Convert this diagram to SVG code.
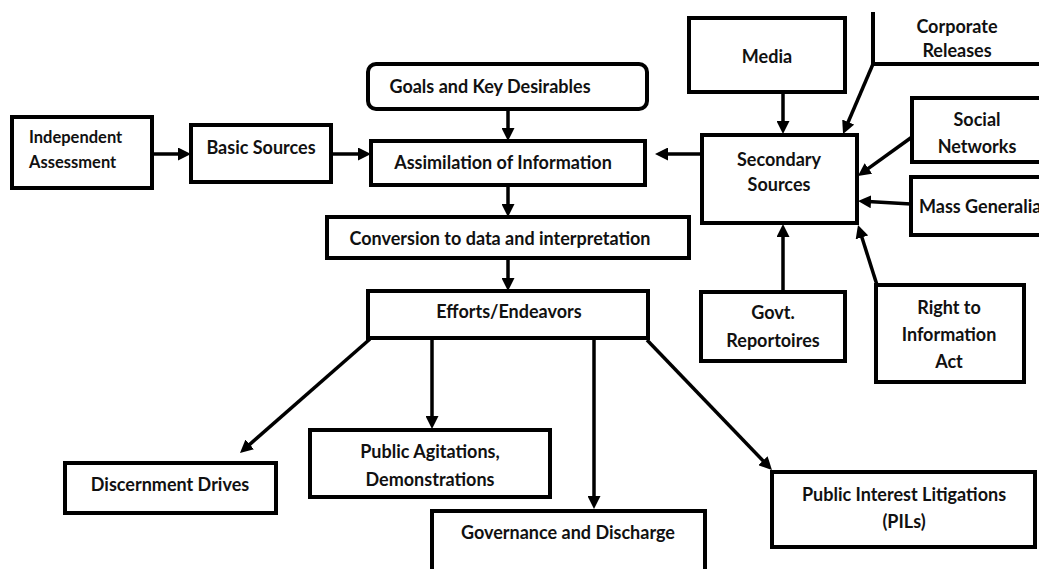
<svg xmlns="http://www.w3.org/2000/svg" width="1039" height="569" viewBox="0 0 1039 569">
<style>
.b{fill:#fff;stroke:#000;stroke-width:4}
.t{font-family:Lato,"Open Sans","Liberation Sans",sans-serif;font-weight:700;font-size:18px;fill:#111;text-anchor:middle}
.c line{stroke:#000;stroke-width:3.5;marker-end:url(#ah)}
</style>
<defs>
<marker id="ah" viewBox="0 0 13 13" refX="3" refY="6.5" markerWidth="13" markerHeight="13" markerUnits="userSpaceOnUse" orient="auto">
<path d="M0,0 L13,6.5 L0,13 z" fill="#000"/>
</marker>
</defs>
<rect width="1039" height="569" fill="#fff"/>
<g id="connectors" class="c">
<line x1="152" y1="154" x2="181" y2="154"/>
<line x1="331" y1="154" x2="361" y2="154"/>
<line x1="508" y1="109" x2="508" y2="131"/>
<line x1="508" y1="185" x2="508" y2="207"/>
<line x1="508" y1="258" x2="508" y2="281"/>
<line x1="702" y1="154" x2="665" y2="154"/>
<line x1="783" y1="92" x2="783" y2="124"/>
<line x1="873" y1="64" x2="847" y2="124.8"/>
<line x1="912" y1="137" x2="866" y2="170.2"/>
<line x1="911" y1="204" x2="868" y2="201.6"/>
<line x1="783" y1="292" x2="783" y2="234"/>
<line x1="877" y1="285" x2="861" y2="234.5"/>
<line x1="370" y1="339" x2="247.5" y2="446.4"/>
<line x1="432" y1="340" x2="432" y2="419"/>
<line x1="594" y1="340" x2="594" y2="499"/>
<line x1="647" y1="340" x2="765" y2="462.8"/>
</g>
<g id="independent-assessment">
<rect class="b" x="12" y="117" width="140" height="71"/>
<text class="t" x="29" y="143" style="text-anchor:start;font-size:16.5px">Independent</text>
<text class="t" x="29" y="168" style="text-anchor:start;font-size:16.5px">Assessment</text>
</g>
<g id="basic-sources">
<rect class="b" x="191" y="125" width="140" height="57"/>
<text class="t" x="261" y="154">Basic Sources</text>
</g>
<g id="goals">
<rect class="b" x="368" y="64" width="279" height="45" rx="8"/>
<text class="t" x="490" y="93">Goals and Key Desirables</text>
</g>
<g id="assimilation">
<rect class="b" x="371" y="141" width="274" height="44"/>
<text class="t" x="503" y="169">Assimilation of Information</text>
</g>
<g id="conversion">
<rect class="b" x="327" y="217" width="362" height="41"/>
<text class="t" x="500" y="245">Conversion to data and interpretation</text>
</g>
<g id="efforts">
<rect class="b" x="368" y="291" width="280" height="47"/>
<text class="t" x="509" y="318">Efforts/Endeavors</text>
</g>
<g id="secondary-sources">
<rect class="b" x="702" y="135" width="155" height="88"/>
<text class="t" x="779" y="166">Secondary</text>
<text class="t" x="779" y="191">Sources</text>
</g>
<g id="media">
<rect class="b" x="689" y="18" width="156" height="74"/>
<text class="t" x="767" y="63">Media</text>
</g>
<g id="corporate-releases">
<path d="M873,12 V64 H1045" fill="none" stroke="#000" stroke-width="4"/>
<text class="t" x="957" y="33">Corporate</text>
<text class="t" x="957" y="57">Releases</text>
</g>
<g id="social-networks">
<rect class="b" x="912" y="98" width="140" height="64"/>
<text class="t" x="977" y="126">Social</text>
<text class="t" x="977" y="153">Networks</text>
</g>
<g id="mass-generalia">
<rect class="b" x="911" y="177" width="140" height="58"/>
<text class="t" x="919" y="213" style="text-anchor:start">Mass Generalia</text>
</g>
<g id="govt-reportoires">
<rect class="b" x="701" y="292" width="144" height="69"/>
<text class="t" x="773" y="319">Govt.</text>
<text class="t" x="773" y="347">Reportoires</text>
</g>
<g id="rti-act">
<rect class="b" x="876" y="285" width="148" height="97"/>
<text class="t" x="949" y="314">Right to</text>
<text class="t" x="949" y="341">Information</text>
<text class="t" x="949" y="368">Act</text>
</g>
<g id="discernment-drives">
<rect class="b" x="65" y="463" width="211" height="50"/>
<text class="t" x="170" y="491">Discernment Drives</text>
</g>
<g id="public-agitations">
<rect class="b" x="310" y="430" width="240" height="67"/>
<text class="t" x="430" y="458">Public Agitations,</text>
<text class="t" x="430" y="486">Demonstrations</text>
</g>
<g id="governance">
<rect class="b" x="432" y="511" width="273" height="80"/>
<text class="t" x="568" y="539">Governance and Discharge</text>
</g>
<g id="pil">
<rect class="b" x="772" y="472" width="263" height="75"/>
<text class="t" x="904" y="501">Public Interest Litigations</text>
<text class="t" x="904" y="528">(PILs)</text>
</g>
</svg>
